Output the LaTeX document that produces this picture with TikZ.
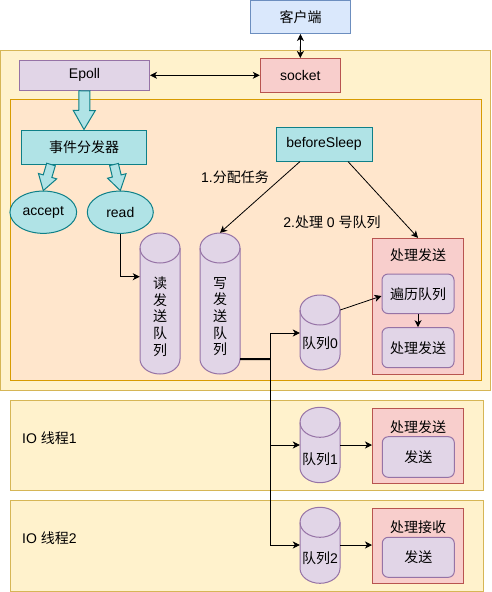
\documentclass[tikz,border=0pt]{standalone}
\usepackage{fontspec}
\setmainfont{Liberation Sans}
\newfontfamily\cjk{Noto Sans CJK SC}
\usetikzlibrary{arrows.meta,shapes.geometric,calc}
\definecolor{bluef}{HTML}{DAE8FC}\definecolor{blued}{HTML}{6C8EBF}
\definecolor{yelf}{HTML}{FFF2CC}\definecolor{yeld}{HTML}{D6B656}
\definecolor{orf}{HTML}{FFE6CC}\definecolor{ord}{HTML}{D79B00}
\definecolor{puf}{HTML}{E1D5E7}\definecolor{pud}{HTML}{9673A6}
\definecolor{ref}{HTML}{F8CECC}\definecolor{red2}{HTML}{B85450}
\definecolor{tef}{HTML}{B0E3E6}\definecolor{ted}{HTML}{0E8088}
\newcommand\fs{\fontsize{14}{16.7}\selectfont}
\newcommand\zh[1]{{\cjk #1}}
\tikzset{
  box/.style={draw, line width=1pt, inner sep=0pt, font=\fs, text=black},
  bluebox/.style={box, fill=bluef, draw=blued},
  yelbox/.style={box, fill=yelf, draw=yeld},
  orbox/.style={box, fill=orf, draw=ord},
  pubox/.style={box, fill=puf, draw=pud},
  rdbox/.style={box, fill=ref, draw=red2},
  tebox/.style={box, fill=tef, draw=ted},
  rnd/.style={rounded corners=6pt},
  cylfill/.style={fill=puf, draw=pud, line width=1pt},
  lbl/.style={font=\fs, inner sep=0pt, text=black},
  arr/.style={line width=0.8pt, -{Stealth[length=7pt,width=7pt,inset=2pt]}},
  darr/.style={line width=0.8pt, {Stealth[length=7pt,width=7pt,inset=2pt]}-{Stealth[length=7pt,width=7pt,inset=2pt]}},
  fatarr/.style={fill=tef, draw=ted, line width=1pt, line join=miter},
}
% name, left x, top y, bottom y, text center y, text
\newcommand\mkcyl[6]{%
  \path[cylfill] (#2,#3+15) -- (#2,#4-15) arc[start angle=180,end angle=360,x radius=20pt,y radius=15pt] -- (#2+40,#3+15) arc[start angle=0,end angle=180,x radius=20pt,y radius=15pt] -- cycle;
  \draw[draw=pud, line width=1pt] (#2,#3+15) arc[start angle=180,end angle=360,x radius=20pt,y radius=15pt];
  \node[inner sep=0pt, minimum width=40pt, minimum height={(#4-#3)*1pt}] (#1) at (#2+20,{(#3+#4)/2}) {};
  \node[lbl, align=center] (#1t) at (#2+20,#5) {#6};
}
% start, end, shaft half width, head half width, head length
\newcommand\fatarrow[5]{%
  \coordinate (fa-s) at #1; \coordinate (fa-e) at #2;
  \coordinate (fa-h) at ($(fa-e)!#5!(fa-s)$);
  \draw[fatarr] ($(fa-s)!#3!90:(fa-e)$) -- ($(fa-h)!#3!90:(fa-e)$) -- ($(fa-h)!#4!90:(fa-e)$) -- (fa-e) -- ($(fa-h)!#4!-90:(fa-e)$) -- ($(fa-h)!#3!-90:(fa-e)$) -- ($(fa-s)!#3!-90:(fa-e)$) -- cycle;
}
\begin{document}
\begin{tikzpicture}[x=1pt,y=-1pt]
\useasboundingbox (0,0) rectangle (492,592);
% containers
\node[yelbox, minimum width=490pt, minimum height=340pt] (main) at (245.5,220) {};
\node[orbox, minimum width=471pt, minimum height=281.5pt] (inner) at (245.5,239.8) {};
\node[yelbox, minimum width=473pt, minimum height=90pt] (io1) at (246.5,445) {};
\node[yelbox, minimum width=473pt, minimum height=91pt] (io2) at (246.5,545.5) {};
\node[lbl, anchor=west] (io1t) at (22,438) {IO \zh{线程}1};
\node[lbl, anchor=west] (io2t) at (22,538) {IO \zh{线程}2};
% top
\node[bluebox, minimum width=100pt, minimum height=33pt] (client) at (300.5,17) {\zh{客户端}};
\node[pubox, minimum width=130pt, minimum height=30pt] (epoll) at (84.5,75.3) {Epoll};
\node[rdbox, minimum width=80pt, minimum height=34pt] (socket) at (300.3,75.5) {socket};
\node[tebox, minimum width=125pt, minimum height=34pt] (disp) at (84,147) {\zh{事件分发器}};
\node[tebox, minimum width=96pt, minimum height=33.5pt] (bs) at (324,144.3) {beforeSleep};
\node[tebox, ellipse, minimum width=66.7pt, minimum height=42.3pt] (acc) at (43.3,212.2) {accept};
\node[tebox, ellipse, minimum width=66pt, minimum height=42.3pt] (read) at (120.3,212.2) {read};
% cylinders
\mkcyl{rq}{140}{233}{374}{316.5}{\zh{读}\\\zh{发}\\\zh{送}\\\zh{队}\\\zh{列}}
\mkcyl{wq}{200}{233}{374}{316.5}{\zh{写}\\\zh{发}\\\zh{送}\\\zh{队}\\\zh{列}}
\mkcyl{q0}{300}{295}{370}{343.5}{\zh{队列}0}
\mkcyl{q1}{300}{407.3}{482.7}{459}{\zh{队列}1}
\mkcyl{q2}{300}{507.3}{583.3}{558.5}{\zh{队列}2}
% processing containers
\node[rdbox, minimum width=91pt, minimum height=135.7pt] (c0) at (418,306.2) {};
\node[lbl] (c0t) at (418,255) {\zh{处理发送}};
\node[pubox, rnd, minimum width=72pt, minimum height=39.5pt] (trav) at (418,293.8) {\zh{遍历队列}};
\node[pubox, rnd, minimum width=72pt, minimum height=40pt] (proc) at (418,347.7) {\zh{处理发送}};
\node[rdbox, minimum width=91pt, minimum height=75pt] (c1) at (418,445.8) {};
\node[lbl] (c1t) at (418,427.3) {\zh{处理发送}};
\node[pubox, rnd, minimum width=72pt, minimum height=40.6pt] (s1) at (418.3,457) {\zh{发送}};
\node[rdbox, minimum width=91pt, minimum height=75pt] (c2) at (418,545.8) {};
\node[lbl] (c2t) at (418,526.7) {\zh{处理接收}};
\node[pubox, rnd, minimum width=72pt, minimum height=40pt] (s2) at (418.3,557.3) {\zh{发送}};
% labels
\node[lbl] (l1) at (235,177) {1.\zh{分配任务}};
\node[lbl] (l2) at (332,222) {2.\zh{处理} 0 \zh{号队列}};
% connectors
\draw[darr] (client.south) -- (socket.north);
\draw[darr] (epoll.east) -- (socket.west |- epoll.east);
\fatarrow{(epoll.south)}{(disp.north)}{5.5pt}{11pt}{19pt}
\fatarrow{([xshift=-33pt]disp.south)}{(acc.north)}{4.5pt}{9.5pt}{15pt}
\fatarrow{([xshift=30pt]disp.south)}{(read.north)}{4.5pt}{9.5pt}{15pt}
\draw[arr] (read.south) |- ([yshift=26.8pt]rq.west);
\draw[arr] ([xshift=-24pt]bs.south) -- (wq.north);
\draw[arr] ([xshift=24pt]bs.south) -- (c0.north);
\coordinate (j0) at (270,333);
\coordinate (jw) at (270,359);
\coordinate (j1) at (270,445);
\coordinate (j2) at (270,545);
\draw[line width=2pt] ($(wq.south east)+(0,-15)$) -- (jw);
\draw[line width=1pt] (j0) -- (j2);
\draw[arr] (j0) -- (j0 -| q0.west);
\draw[arr] (j1) -- (j1 -| q1.west);
\draw[arr] (j2) -- (j2 -| q2.west);
\draw[arr] ([yshift=22.5pt]q0.east) -- ([yshift=-2.2pt]trav.west);
\draw[arr] (trav.south) -- (proc.north);
\draw[arr] (q1.east |- j1) -- (c1.west |- j1);
\draw[arr] (q2.east |- j2) -- (c2.west |- j2);
\end{tikzpicture}
\end{document}
